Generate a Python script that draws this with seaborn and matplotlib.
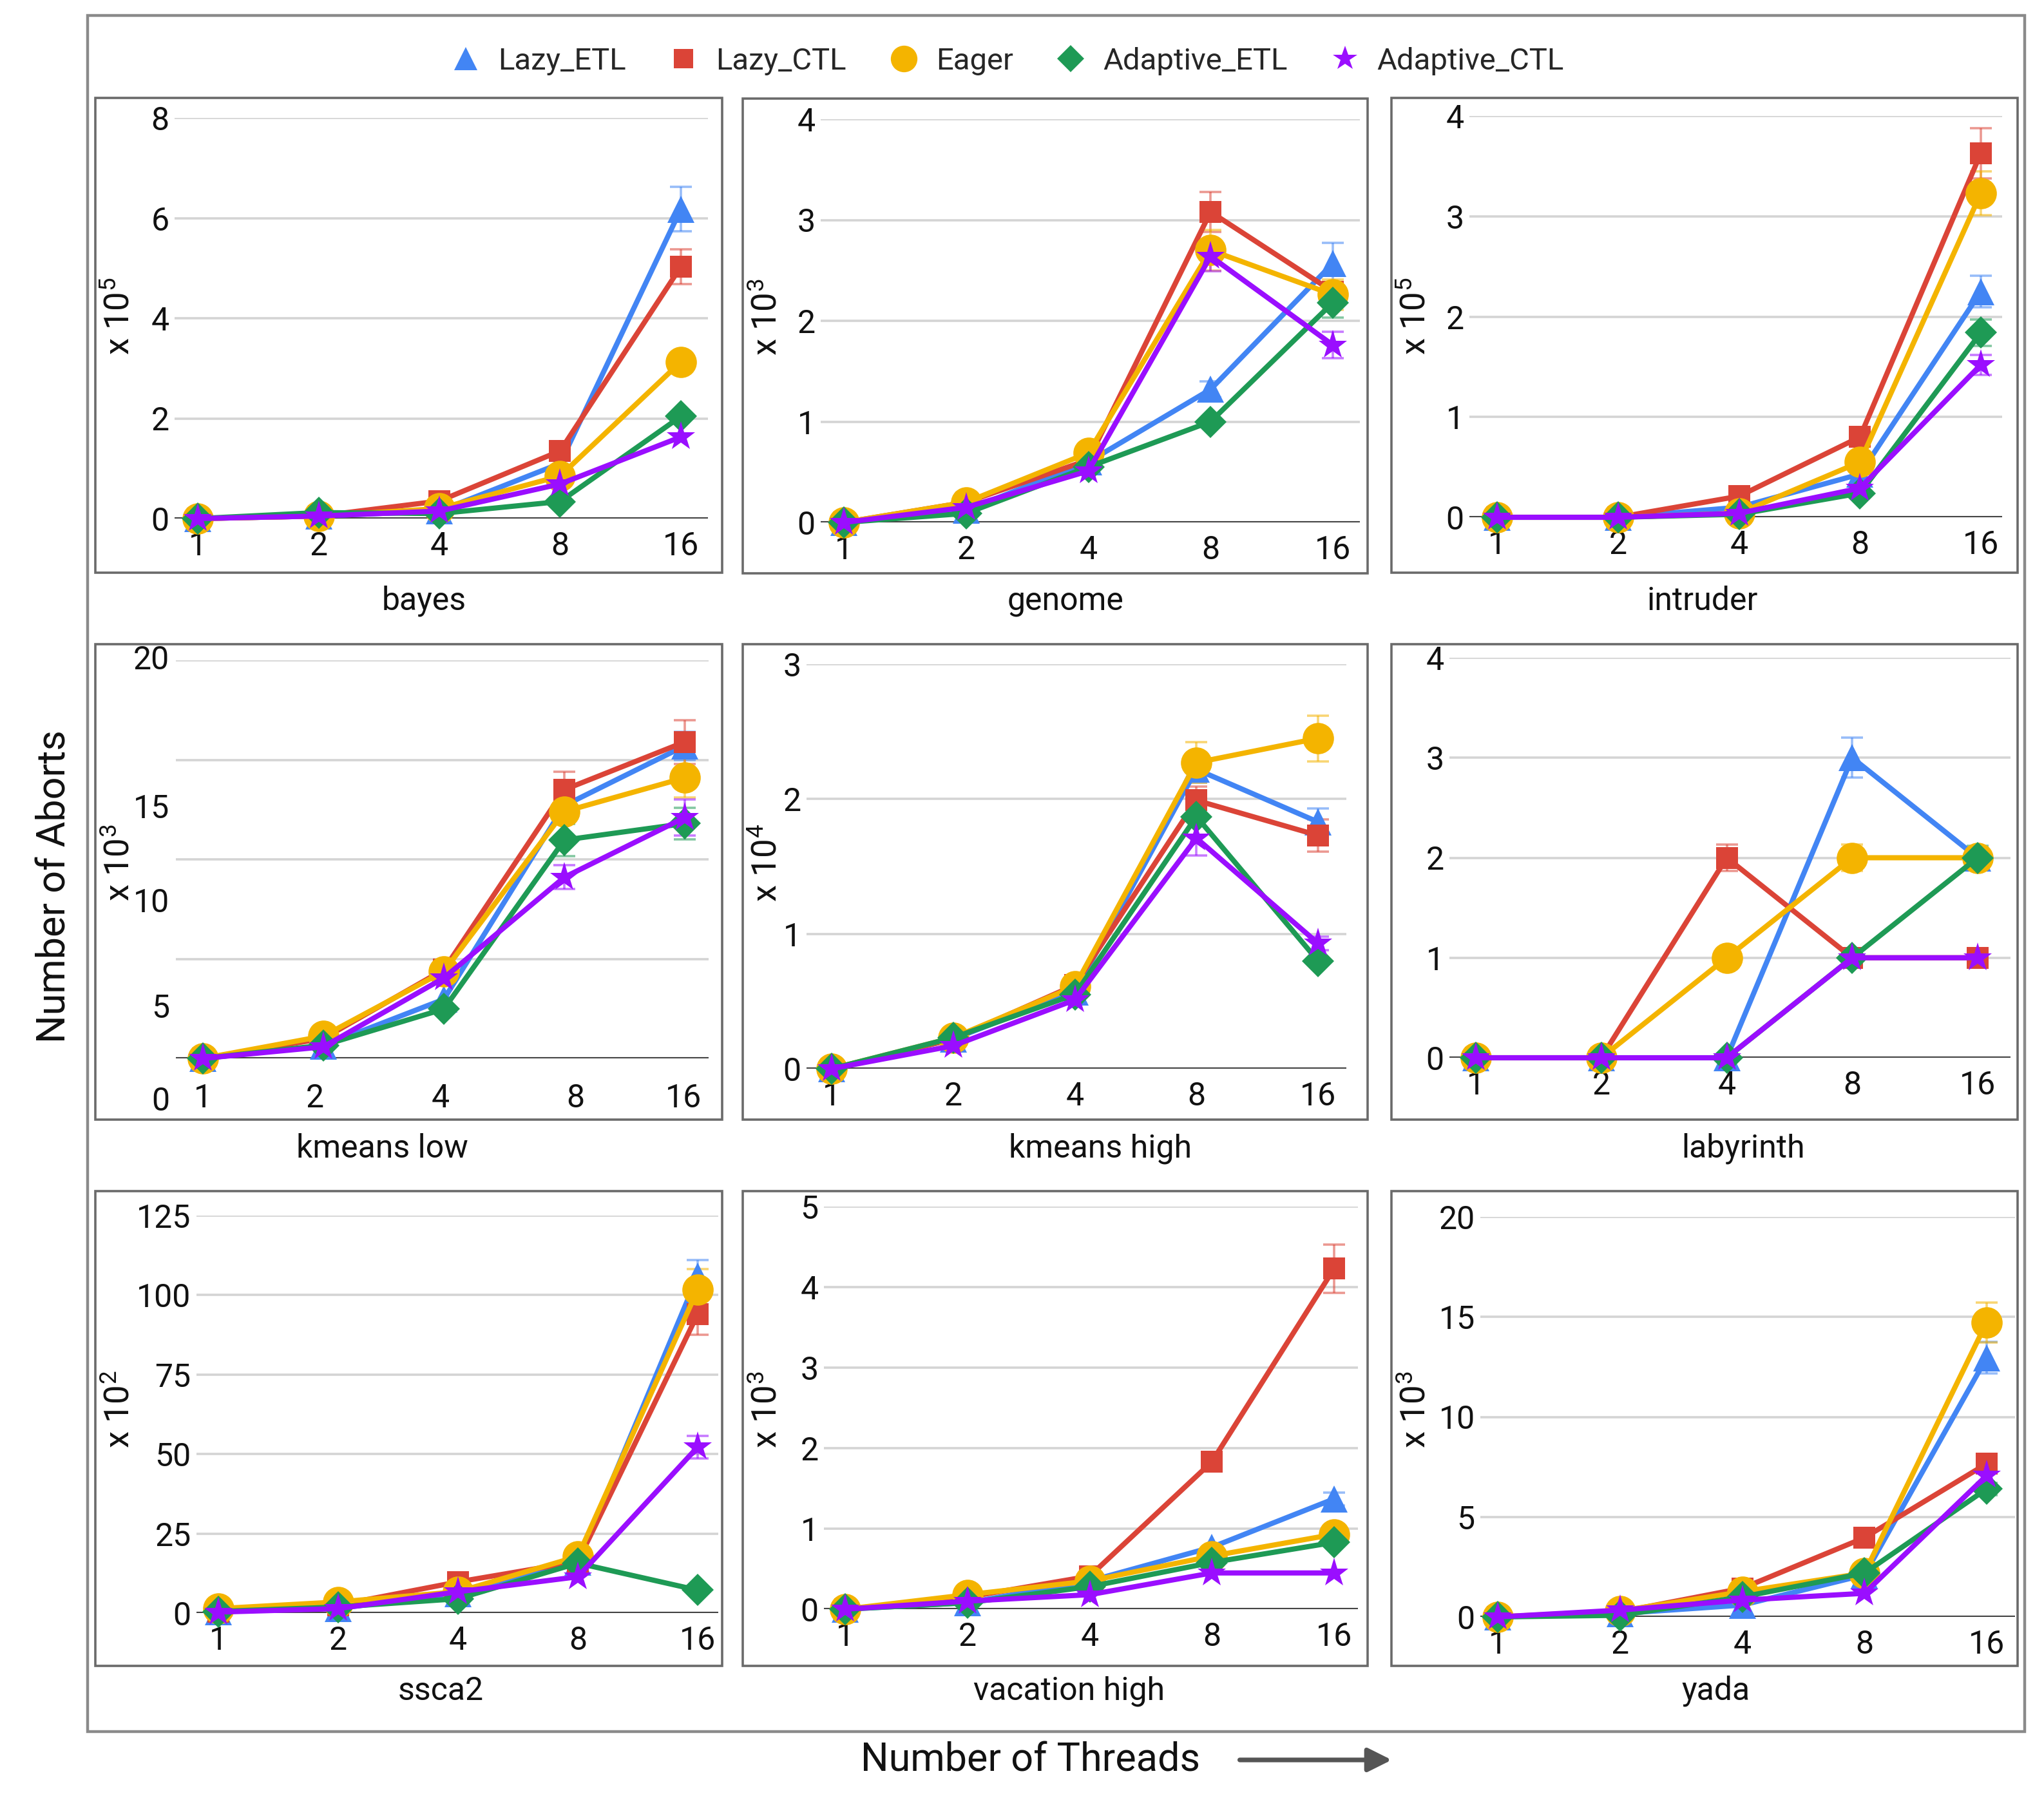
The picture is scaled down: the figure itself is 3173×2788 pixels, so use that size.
import matplotlib
matplotlib.use("Agg")
import matplotlib.pyplot as plt
import seaborn as sns
import pandas as pd
from matplotlib.lines import Line2D
from matplotlib.patches import Rectangle, FancyArrowPatch
import matplotlib.transforms as mtransforms

# ---- data ----
threads = ["1", "2", "4", "8", "16"]
series = ["Lazy_ETL", "Lazy_CTL", "Eager", "Adaptive_ETL", "Adaptive_CTL"]
colors = ["#4285F4", "#DB4437", "#F4B400", "#1E9A55", "#9A0EFF"]
markers = ["^", "s", "o", "D", "*"]
msizes = [15, 12.5, 17.5, 12.5, 17]

bayes = {"Lazy_ETL": [0, 0.05, 0.15, 1.1, 6.18], "Lazy_CTL": [0, 0.05, 0.35, 1.35, 5.03],
         "Eager": [0, 0.05, 0.2, 0.85, 3.13], "Adaptive_ETL": [0, 0.12, 0.1, 0.34, 2.04],
         "Adaptive_CTL": [0, 0.05, 0.15, 0.69, 1.63]}
bayes_err = {"Lazy_ETL": [0, 0, 0, 0, 0.44], "Lazy_CTL": [0, 0, 0, 0, 0.35],
             "Eager": [0, 0, 0, 0, 0], "Adaptive_ETL": [0, 0, 0, 0, 0],
             "Adaptive_CTL": [0, 0, 0, 0, 0]}

genome = {"Lazy_ETL": [0, 0.12, 0.6, 1.32, 2.57], "Lazy_CTL": [0, 0.2, 0.62, 3.08, 2.29],
          "Eager": [0, 0.2, 0.69, 2.7, 2.26], "Adaptive_ETL": [0, 0.09, 0.55, 1.0, 2.18],
          "Adaptive_CTL": [0, 0.15, 0.51, 2.64, 1.76]}
genome_err = {"Lazy_ETL": [0, 0, 0, 0.08, 0.2], "Lazy_CTL": [0, 0, 0, 0.2, 0],
              "Eager": [0, 0, 0, 0.2, 0.15], "Adaptive_ETL": [0, 0, 0, 0, 0.15],
              "Adaptive_CTL": [0, 0, 0, 0.15, 0.13]}

intruder = {"Lazy_ETL": [0, 0, 0.1, 0.43, 2.25], "Lazy_CTL": [0, 0, 0.21, 0.8, 3.63],
            "Eager": [0, 0, 0.04, 0.55, 3.23], "Adaptive_ETL": [0, 0, 0.03, 0.24, 1.84],
            "Adaptive_CTL": [0, 0, 0.04, 0.29, 1.52]}
intruder_err = {"Lazy_ETL": [0, 0, 0, 0, 0.16], "Lazy_CTL": [0, 0, 0, 0, 0.25],
                "Eager": [0, 0, 0, 0, 0.22], "Adaptive_ETL": [0, 0, 0, 0, 0.13],
                "Adaptive_CTL": [0, 0, 0, 0, 0.1]}

kmeans_low = {"Lazy_ETL": [0, 0.63, 2.97, 12.7, 15.7], "Lazy_CTL": [0, 1.0, 4.46, 13.5, 15.9],
              "Eager": [0, 1.12, 4.37, 12.4, 14.1], "Adaptive_ETL": [0, 0.66, 2.48, 10.97, 11.8],
              "Adaptive_CTL": [0, 0.58, 4.04, 9.1, 12.1]}
kmeans_low_err = {"Lazy_ETL": [0, 0, 0, 0.5, 0.7], "Lazy_CTL": [0, 0, 0, 0.9, 1.1],
                  "Eager": [0, 0, 0, 0, 1.0], "Adaptive_ETL": [0, 0, 0, 0.8, 0.8],
                  "Adaptive_CTL": [0, 0, 0, 0.6, 0.9]}

kmeans_high = {"Lazy_ETL": [0, 0.22, 0.57, 2.22, 1.83], "Lazy_CTL": [0, 0.22, 0.62, 1.99, 1.73],
               "Eager": [0, 0.23, 0.61, 2.27, 2.45], "Adaptive_ETL": [0, 0.23, 0.55, 1.87, 0.8],
               "Adaptive_CTL": [0, 0.17, 0.51, 1.71, 0.93]}
kmeans_high_err = {"Lazy_ETL": [0, 0, 0, 0.1, 0.1], "Lazy_CTL": [0, 0, 0, 0.1, 0.12],
                   "Eager": [0, 0, 0, 0.15, 0.17], "Adaptive_ETL": [0, 0, 0, 0, 0],
                   "Adaptive_CTL": [0, 0, 0, 0.13, 0.05]}

labyrinth = {"Lazy_ETL": [0, 0, 0, 3, 2], "Lazy_CTL": [0, 0, 2, 1, 1],
             "Eager": [0, 0, 1, 2, 2], "Adaptive_ETL": [0, 0, 0, 1, 2],
             "Adaptive_CTL": [0, 0, 0, 1, 1]}
labyrinth_err = {"Lazy_ETL": [0, 0, 0, 0.2, 0], "Lazy_CTL": [0, 0, 0.13, 0, 0],
                 "Eager": [0, 0, 0, 0.13, 0.1], "Adaptive_ETL": [0, 0, 0, 0, 0.12],
                 "Adaptive_CTL": [0, 0, 0, 0, 0]}

ssca2 = {"Lazy_ETL": [0.5, 1.5, 6, 16, 106], "Lazy_CTL": [0.5, 2.5, 9.8, 16.2, 94],
         "Eager": [1.4, 3.5, 6.7, 17.8, 101.7], "Adaptive_ETL": [0.5, 1.9, 4.5, 15.7, 7.2],
         "Adaptive_CTL": [0.3, 1.4, 6.7, 11.4, 52.2]}
ssca2_err = {"Lazy_ETL": [0, 0, 0, 0, 5], "Lazy_CTL": [0, 0, 0, 0, 6.5],
             "Eager": [0, 0, 0, 0, 6.5], "Adaptive_ETL": [0, 0, 0, 0, 0],
             "Adaptive_CTL": [0, 0, 0, 0, 3.5]}

vacation_high = {"Lazy_ETL": [0, 0.08, 0.35, 0.77, 1.37], "Lazy_CTL": [0, 0.15, 0.41, 1.83, 4.23],
                 "Eager": [0, 0.18, 0.35, 0.66, 0.93], "Adaptive_ETL": [0, 0.08, 0.28, 0.58, 0.83],
                 "Adaptive_CTL": [0, 0.1, 0.18, 0.45, 0.45]}
vacation_high_err = {"Lazy_ETL": [0, 0, 0, 0, 0.08], "Lazy_CTL": [0, 0, 0, 0, 0.3],
                     "Eager": [0, 0, 0, 0, 0], "Adaptive_ETL": [0, 0, 0, 0, 0],
                     "Adaptive_CTL": [0, 0, 0, 0, 0]}

yada = {"Lazy_ETL": [0, 0.17, 0.59, 2.1, 12.96], "Lazy_CTL": [0, 0.25, 1.43, 3.96, 7.66],
        "Eager": [0, 0.3, 1.26, 2.19, 14.73], "Adaptive_ETL": [0, 0.08, 1.0, 2.19, 6.4],
        "Adaptive_CTL": [0, 0.34, 0.84, 1.18, 7.07]}
yada_err = {"Lazy_ETL": [0, 0, 0, 0, 0.8], "Lazy_CTL": [0, 0, 0, 0, 0],
            "Eager": [0, 0, 0, 0, 1.0], "Adaptive_ETL": [0, 0, 0, 0, 0.3],
            "Adaptive_CTL": [0, 0, 0, 0, 0]}

names = ["bayes", "genome", "intruder", "kmeans low", "kmeans high", "labyrinth",
         "ssca2", "vacation high", "yada"]
values = [bayes, genome, intruder, kmeans_low, kmeans_high, labyrinth, ssca2, vacation_high, yada]
errors = [bayes_err, genome_err, intruder_err, kmeans_low_err, kmeans_high_err, labyrinth_err,
          ssca2_err, vacation_high_err, yada_err]
yticks = [[0, 2, 4, 6, 8], [0, 1, 2, 3, 4], [0, 1, 2, 3, 4], [0, 5, 10, 15, 20], [0, 1, 2, 3],
          [0, 1, 2, 3, 4], [0, 25, 50, 75, 100, 125], [0, 1, 2, 3, 4, 5], [0, 5, 10, 15, 20]]
exponents = [5, 3, 5, 3, 4, None, 2, 3, 3]

# ---- layout in pixels of the 3173x2788 image ----
W, H = 3173, 2788
# panel box (x0, y0, x1, y1)
boxes = [(148, 152, 1121, 889), (1153, 153, 2123, 890), (2160, 152, 3132, 889),
         (148, 1000, 1121, 1738), (1153, 1000, 2123, 1738), (2160, 1000, 3132, 1738),
         (148, 1849, 1121, 2586), (1153, 1849, 2123, 2586), (2160, 1849, 3132, 2586)]
# plot area: grid x0, grid x1, top gridline y, baseline y, x of "1", x of "16"
areas = [(271, 1099, 183, 805, 307, 1057), (1274, 2111, 185, 811, 1310, 2069),
         (2281, 3108, 180, 803, 2324, 3075), (273, 1100, 1025, 1643, 315, 1063),
         (1252, 2090, 1031, 1659, 1291, 2046), (2250, 3121, 1021, 1642, 2291, 3070),
         (305, 1115, 1887, 2504, 339, 1083), (1279, 2108, 1873, 2498, 1312, 2071),
         (2298, 3128, 1889, 2510, 2325, 3084)]
title_xy = [(658, 933), (1654, 933), (2643, 933), (593, 1783), (1708, 1783), (2706, 1783),
            (684, 2625), (1660, 2625), (2664, 2625)]

sns.set_theme(style="white")
plt.rcParams["font.family"] = ["Roboto", "DejaVu Sans"]
plt.rcParams["mathtext.fontset"] = "custom"
plt.rcParams["mathtext.rm"] = "Roboto"
plt.rcParams["mathtext.it"] = "Roboto"

fig = plt.figure(figsize=(W / 200, H / 200), dpi=200)
fig.patch.set_facecolor("white")

tick_fs = 18

for i, name in enumerate(names):
    gx0, gx1, gtop, gbase, t1, t16 = areas[i]
    ax = fig.add_axes([gx0 / W, 1 - gbase / H, (gx1 - gx0) / W, (gbase - gtop) / H])
    sp = (t16 - t1) / 4

    rows = []
    for s in series:
        for k, t in enumerate(threads):
            rows.append({"pos": k, "threads": t, "series": s,
                         "aborts": values[i][s][k], "err": errors[i][s][k]})
    df = pd.DataFrame(rows)

    for j, s in enumerate(series):
        sub = df[df["series"] == s]
        eb = sub[sub["err"] > 0]
        if len(eb):
            ax.errorbar(eb["pos"], eb["aborts"], yerr=eb["err"], fmt="none",
                        ecolor=colors[j], alpha=0.55, capsize=6, elinewidth=1.3,
                        capthick=1.3, zorder=1.5, clip_on=False)
        sns.lineplot(data=sub, x="pos", y="aborts", color=colors[j], marker=markers[j],
                     markersize=msizes[j], markeredgewidth=0, linewidth=2.9,
                     ax=ax, legend=False, errorbar=None, clip_on=False, zorder=2 + j * 0.1)

    ax.set_xlim((gx0 - t1) / sp, (gx1 - t1) / sp)
    ax.set_ylim(0, yticks[i][-1])
    ax.set_yticks(yticks[i])
    ax.set_xticks(range(len(threads)))
    ax.grid(axis="y", color="#d4d4d4", linewidth=1.3)
    ax.grid(axis="x", visible=False)
    ax.axhline(0, color="#444444", linewidth=1.5, zorder=1)
    ax.set_axisbelow(True)
    for sp_ in ax.spines.values():
        sp_.set_visible(False)
    ax.set_xlabel("")
    ax.set_ylabel("")
    ax.tick_params(length=0, labelsize=tick_fs, colors="#111111")
    ax.tick_params(axis="y", pad=3)
    ax.tick_params(axis="x", pad=7)

    if name == "kmeans low":
        # the original chart draws these labels out of step with its gridlines
        ax.set_yticklabels([""] * len(yticks[i]))
        ax.set_xticklabels([""] * len(threads))
        trans_y = mtransforms.blended_transform_factory(ax.transAxes, ax.transData)
        for lab, yp in zip(["0", "5", "10", "15", "20"], [-2.16, 2.48, 7.79, 12.54, 20]):
            ax.text(-0.012, yp, lab, transform=trans_y, ha="right", va="center",
                    fontsize=tick_fs, color="#111111", clip_on=False)
        trans_x = mtransforms.blended_transform_factory(ax.transData, ax.transAxes)
        for lab, xp in zip(threads, [0, 0.93, 1.97, 3.09, 3.99]):
            ax.text(xp, -0.1, lab, transform=trans_x, ha="center", va="center",
                    fontsize=tick_fs, color="#111111", clip_on=False)
    else:
        ax.set_yticklabels([str(v) for v in yticks[i]])
        ax.set_xticklabels(threads)

    bx0, by0, bx1, by1 = boxes[i]
    fig.add_artist(Rectangle((bx0 / W, 1 - by1 / H), (bx1 - bx0) / W, (by1 - by0) / H,
                             transform=fig.transFigure, fill=False,
                             edgecolor="#6a6a6a", linewidth=1.3))
    tx, ty = title_xy[i]
    fig.text(tx / W, 1 - ty / H, name, ha="center", va="center", fontsize=18,
             color="#111111")
    if exponents[i] is not None:
        fig.text((bx0 + 38) / W, 1 - (by0 + 0.46 * (by1 - by0)) / H,
                 r"x 10$^{%d}$" % exponents[i], rotation=90, ha="center", va="center",
                 fontsize=19, color="#111111")

# outer frame
fig.add_artist(Rectangle((136 / W, 1 - 2688 / H), (3143 - 136) / W, (2688 - 24) / H,
                         transform=fig.transFigure, fill=False,
                         edgecolor="#8a8a8a", linewidth=1.6))

# legend
handles = [Line2D([], [], color=colors[j], marker=markers[j], linestyle="none",
                  markersize=msizes[j] * 0.85, markeredgewidth=0) for j in range(len(series))]
fig.legend(handles, series, loc="center", bbox_to_anchor=(0.491, 1 - 95 / H), ncol=5,
           frameon=False, fontsize=17, handletextpad=0.3, columnspacing=1.15,
           handlelength=1.5)

fig.text(85 / W, 1 - 1376 / H, "Number of Aborts", rotation=90, ha="center", va="center",
         fontsize=22, color="#111111")
fig.text(1599 / W, 1 - 2732 / H, "Number of Threads", ha="center", va="center",
         fontsize=22, color="#111111")
fig.add_artist(FancyArrowPatch((1919 / W, 1 - 2732 / H), (2166 / W, 1 - 2732 / H),
                               transform=fig.transFigure, arrowstyle="-|>",
                               mutation_scale=28, color="#555555", linewidth=2.6))

fig.savefig("out.png", dpi=200)
